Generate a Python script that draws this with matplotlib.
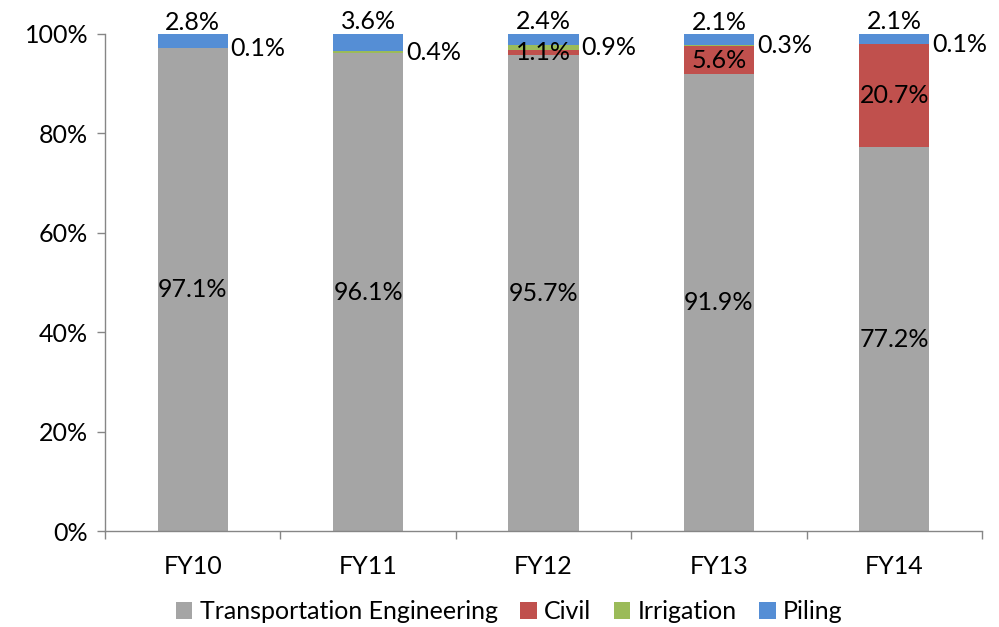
import matplotlib
matplotlib.use("Agg")
import matplotlib.pyplot as plt
from matplotlib.ticker import FixedLocator, PercentFormatter
from matplotlib.patches import Patch
import numpy as np

plt.rcParams['font.family'] = ['Lato', 'DejaVu Sans']

years = ["FY10", "FY11", "FY12", "FY13", "FY14"]
transport = [97.1, 96.1, 95.7, 91.9, 77.2]
civil = [0.0, 0.0, 1.1, 5.6, 20.7]
irrigation = [0.1, 0.4, 0.9, 0.3, 0.1]
piling = [2.8, 3.6, 2.4, 2.1, 2.1]

series = [
    ("Transportation Engineering", transport, "#A5A5A5"),
    ("Civil", civil, "#C0504D"),
    ("Irrigation", irrigation, "#9BBB59"),
    ("Piling", piling, "#558ED5"),
]

fs = 18
axis_grey = "#868686"

fig = plt.figure(figsize=(9.99, 6.27), dpi=100)
ax = fig.add_axes([0.1051, 0.153, 0.878, 0.7928])

x = np.arange(len(years))
width = 0.4
bottom = np.zeros(len(years))
tops = {}
for name, vals, color in series:
    vals = np.array(vals)
    ax.bar(x, vals, width, bottom=bottom, color=color, linewidth=0, label=name)
    tops[name] = (bottom.copy(), vals)
    bottom = bottom + vals

# value labels
for i in range(len(years)):
    b, v = tops["Transportation Engineering"][0][i], transport[i]
    ax.text(x[i], b + v / 2, f"{v:.1f}%", ha="center", va="center", fontsize=fs)
    if civil[i] > 0:
        b = tops["Civil"][0][i]
        ax.text(x[i], b + civil[i] / 2, f"{civil[i]:.1f}%", ha="center",
                va="center", fontsize=fs)
    b = tops["Irrigation"][0][i]
    ax.annotate(f"{irrigation[i]:.1f}%", (x[i] + width / 2, b + irrigation[i] / 2),
                xytext=(2, 0), textcoords="offset points", ha="left",
                va="center", fontsize=fs)
    b = tops["Piling"][0][i]
    ax.annotate(f"{piling[i]:.1f}%", (x[i], b + piling[i]),
                xytext=(0, 0), textcoords="offset points", ha="center",
                va="bottom", fontsize=fs)

ax.set_xlim(-0.5, len(years) - 0.5)
ax.set_ylim(0, 100)
ax.set_yticks(np.arange(0, 101, 20))
ax.yaxis.set_major_formatter(PercentFormatter(decimals=0))
ax.set_xticks(x)
ax.set_xticklabels(years)
ax.xaxis.set_minor_locator(FixedLocator(np.arange(-0.5, len(years), 1.0)))
ax.tick_params(axis="x", which="major", length=0, pad=17, labelsize=fs)
ax.tick_params(axis="x", which="minor", length=6, color=axis_grey, width=1)
ax.tick_params(axis="y", length=6, color=axis_grey, width=1, pad=6, labelsize=fs)

for side in ("top", "right"):
    ax.spines[side].set_visible(False)
for side in ("left", "bottom"):
    ax.spines[side].set_color(axis_grey)
    ax.spines[side].set_linewidth(1)

handles = [Patch(facecolor=c, label=n) for n, _, c in series]
fig.legend(handles=handles, loc="center", bbox_to_anchor=(0.51, 0.024),
           ncol=4, frameon=False, fontsize=fs, handlelength=0.65,
           handleheight=0.65, handletextpad=0.3, columnspacing=0.9)

fig.savefig("out.png", dpi=100)
